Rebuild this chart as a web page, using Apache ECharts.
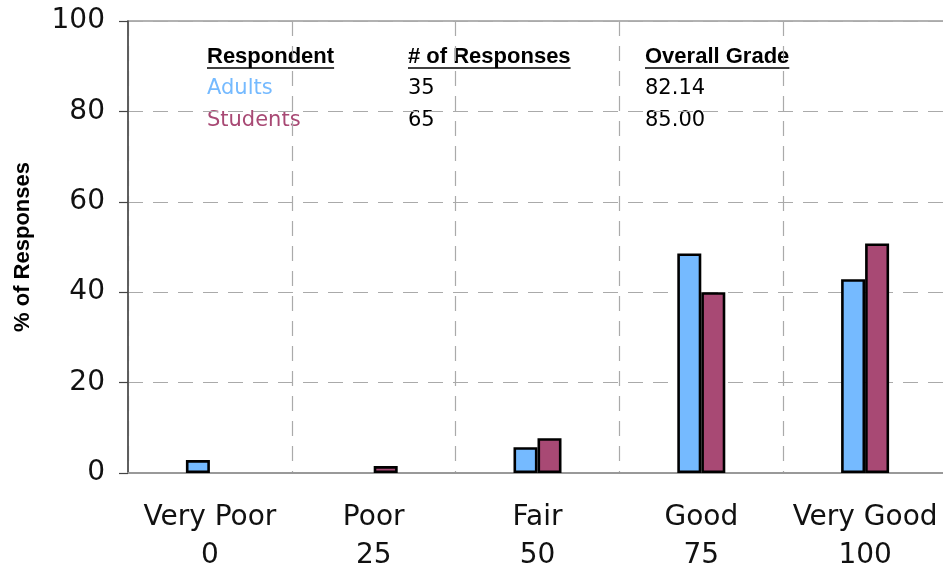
<!DOCTYPE html>
<html>
<head>
<meta charset="utf-8">
<script src="https://cdn.jsdelivr.net/npm/echarts@6/dist/echarts.min.js"></script>
<style>
html,body{margin:0;padding:0;background:#fff;}
#chart{width:943px;height:568px;}
</style>
</head>
<body>
<div id="chart"></div>
<script>
// ---- data ----
var categories = ['Very Poor', 'Poor', 'Fair', 'Good', 'Very Good'];
var scores = ['0', '25', '50', '75', '100'];
var adults = [2.86, 0, 5.71, 48.57, 42.86];
var students = [0, 1.54, 7.69, 40.00, 50.77];
var yTicks = [0, 20, 40, 60, 80, 100];
var tableHeaders = ['Respondent', '# of Responses', 'Overall Grade'];
var respondents = ['Adults', 'Students'];
var responseCounts = ['35', '65'];
var overallGrades = ['82.14', '85.00'];
var yTitle = '% of Responses';

// ---- styles ----
var BLUE = '#75BAFF';
var PURPLE = '#A84974';
var LABEL_FONT = '"DejaVu Sans", Verdana, sans-serif';
var HEAD_FONT = '"Liberation Sans", Arial, Helvetica, sans-serif';

var chart = echarts.init(document.getElementById('chart'), null, {renderer: 'canvas'});

function nz(arr) { return arr.map(function (v) { return v === 0 ? '-' : v; }); }

var measureCtx = document.createElement('canvas').getContext('2d');
function textWidth(t, font) { measureCtx.font = font; return measureCtx.measureText(t).width; }

var colX = [207, 408, 645];
var headY = 57, rowY0 = 89, rowStep = 32;
var graphics = [];
var headFont = 'bold 22px ' + HEAD_FONT;
tableHeaders.forEach(function (h, i) {
  graphics.push({
    type: 'text', x: colX[i], y: headY,
    style: { text: h, font: headFont, fill: '#000', textAlign: 'left', textVerticalAlign: 'middle' }
  });
  var w = textWidth(h, headFont);
  graphics.push({
    type: 'line', shape: { x1: colX[i], y1: headY + 11, x2: colX[i] + w, y2: headY + 11 },
    style: { stroke: '#000', lineWidth: 1.5 }
  });
});
var rowColors = [BLUE, PURPLE];
respondents.forEach(function (r, j) {
  var y = rowY0 + j * rowStep;
  var cells = [r, responseCounts[j], overallGrades[j]];
  cells.forEach(function (c, i) {
    graphics.push({
      type: 'text', x: colX[i], y: y,
      style: { text: c, font: '21px ' + LABEL_FONT, fill: i === 0 ? rowColors[j] : '#000', textAlign: 'left', textVerticalAlign: 'middle' }
    });
  });
});
graphics.push({
  type: 'text', x: 23, y: 247, rotation: Math.PI / 2,
  style: { text: yTitle, font: 'bold 22px ' + HEAD_FONT, fill: '#000', textAlign: 'center', textVerticalAlign: 'middle' }
});

var option = {
  animation: false,
  backgroundColor: '#fff',
  grid: { left: 128, top: 21, width: 819, height: 452, show: true, borderColor: '#999', borderWidth: 1.5, containLabel: false, outerBoundsMode: 'none' },
  xAxis: {
    type: 'category',
    data: categories,
    boundaryGap: true,
    axisLine: { show: true, lineStyle: { color: '#999', width: 2 } },
    axisTick: { show: false },
    axisLabel: {
      margin: 26,
      color: '#111',
      fontFamily: LABEL_FONT,
      fontSize: 28,
      lineHeight: 38,
      interval: 0,
      formatter: function (v, idx) { return v + '\n' + scores[idx]; }
    },
    splitLine: { show: true, interval: 0, lineStyle: { color: '#aaa', type: [15, 10], width: 1.2 } }
  },
  yAxis: {
    type: 'value',
    min: yTicks[0], max: yTicks[yTicks.length - 1], interval: yTicks[1] - yTicks[0],
    axisLine: { show: true, lineStyle: { color: '#444', width: 1.5 } },
    axisTick: { show: true, inside: false, length: 9, lineStyle: { color: '#444', width: 1.2 } },
    axisLabel: { margin: 23, color: '#111', fontFamily: LABEL_FONT, fontSize: 28 },
    splitLine: { show: true, lineStyle: { color: '#aaa', type: [15, 10], width: 1.2 } }
  },
  series: [
    {
      name: 'Adults', type: 'bar', data: nz(adults), barWidth: 24, barGap: '0%',
      itemStyle: { color: BLUE, borderColor: '#000', borderWidth: 2.6 }
    },
    {
      name: 'Students', type: 'bar', data: nz(students), barWidth: 24, barGap: '0%',
      itemStyle: { color: PURPLE, borderColor: '#000', borderWidth: 2.6 }
    }
  ],
  graphic: graphics
};
chart.setOption(option);
</script>
</body>
</html>
